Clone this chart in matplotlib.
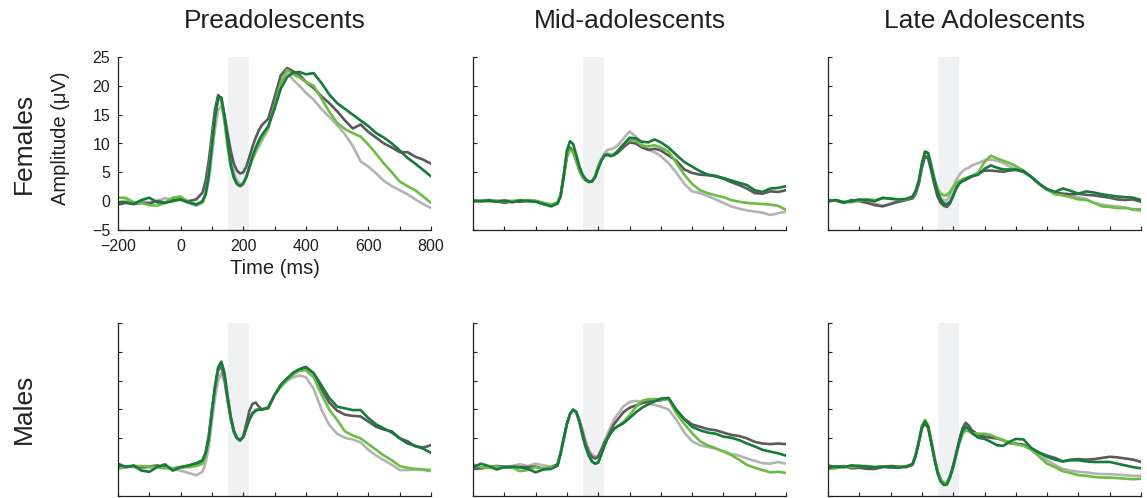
import matplotlib
matplotlib.use("Agg")
import matplotlib.pyplot as plt
import numpy as np

plt.rcParams['font.family'] = ['Liberation Sans', 'DejaVu Sans']

# ---------------- data ----------------
times = [-200, -175, -150, -125, -100, -75, -50, -25, 0, 25, 50, 70,
         80, 90, 100, 110, 120, 130, 140, 150, 160, 170, 180, 190, 200,
         210, 220, 230, 240, 250, 260, 280,
         300, 320, 340, 360, 380, 400, 425, 450, 475, 500, 525, 550, 575,
         600, 625, 650, 675, 700, 725, 750, 775, 800]

group_titles = ["Preadolescents", "Mid-adolescents", "Late Adolescents"]
row_labels = ["Females", "Males"]
series_names = ["light gray", "dark gray", "light green", "dark green"]

x_ticks = [-200, -100, 0, 100, 200, 300, 400, 500, 600, 700, 800]
x_ticklabels = ["\u2212200", "", "0", "", "200", "", "400", "", "600", "", "800"]
y_ticks = [-5, 0, 5, 10, 15, 20, 25]
y_ticklabels = ["\u22125", "0", "5", "10", "15", "20", "25"]
shade_window = [150, 220]

# Females, Preadolescents
fem_pre_lgray = [-0.3, 0.2, -0.3, 0.0, -0.2, 0.1, 0.5, 0.3, 0.2, -0.3, -0.8, -0.3,
                 1.0, 3.5, 8.0, 12.5, 15.8, 16.5, 14.0, 10.5, 7.2, 5.0, 3.6, 3.0, 3.2,
                 4.2, 5.8, 7.3, 8.5, 9.5, 10.5, 12.5,
                 16.5, 20.5, 22.3, 21.0, 20.0, 18.8, 17.6, 16.0, 14.6, 13.2, 11.6, 9.6, 6.9,
                 6.0, 4.8, 3.5, 2.6, 1.9, 1.2, 0.3, -0.5, -1.2]
fem_pre_dgray = [-0.6, -0.3, -0.5, -0.3, -0.4, 0.0, -0.2, 0.2, 0.3, 0.0, 0.3, 1.5,
                 3.5, 7.0, 11.5, 16.0, 18.4, 17.8, 15.0, 11.8, 8.8, 6.5, 5.3, 4.8, 5.0,
                 6.0, 7.7, 9.5, 11.0, 12.3, 13.2, 14.3,
                 18.0, 21.8, 23.1, 22.5, 21.9, 20.7, 19.6, 18.2, 17.0, 15.6, 14.0, 12.6, 13.3,
                 12.0, 11.0, 10.0, 9.3, 8.5, 8.5, 7.7, 7.2, 6.5]
fem_pre_lgreen = [0.6, 0.6, -0.2, -0.3, -0.7, -0.8, -0.3, 0.6, 0.8, -0.2, -0.5, -0.2,
                  1.5, 5.0, 10.0, 14.5, 17.8, 17.5, 14.0, 9.5, 6.0, 4.0, 3.0, 2.7, 3.0,
                  4.2, 5.8, 7.4, 8.8, 10.0, 11.0, 12.8,
                  16.5, 20.5, 22.8, 22.0, 21.4, 20.7, 20.0, 17.8, 15.5, 13.6, 12.5, 11.8, 11.2,
                  9.8, 8.2, 6.5, 5.0, 3.4, 2.6, 1.9, 0.8, -0.3]
fem_pre_dgreen = [-0.2, -0.2, -0.5, 0.2, 0.6, -0.2, -0.3, 0.0, 0.3, -0.2, -0.6, 0.0,
                  1.2, 4.5, 9.5, 14.5, 18.0, 18.0, 14.8, 10.5, 6.5, 4.2, 3.0, 2.6, 3.0,
                  4.2, 6.0, 7.8, 9.3, 10.5, 11.5, 13.0,
                  16.0, 19.5, 21.5, 22.3, 22.4, 22.0, 22.2, 20.5, 18.5, 17.0, 16.0, 15.0, 14.0,
                  13.0, 11.8, 11.0, 10.0, 8.8, 7.5, 6.5, 5.4, 4.3]

# Females, Mid-adolescents
fem_mid_lgray = [0.0, 0.1, 0.0, -0.1, 0.2, 0.0, 0.1, 0.2, 0.0, -0.3, -0.6, -0.3,
                 1.0, 4.0, 7.5, 9.0, 8.4, 7.0, 5.5, 4.5, 3.8, 3.4, 3.4, 4.2, 5.8,
                 7.2, 8.3, 8.9, 9.0, 9.2, 9.6, 10.8,
                 12.1, 11.2, 9.8, 8.9, 8.5, 7.8, 6.6, 4.9, 3.0, 1.7, 1.4, 0.9, 0.3,
                 -0.3, -0.9, -1.3, -1.6, -1.8, -2.0, -2.4, -2.1, -1.8]
fem_mid_dgray = [0.0, 0.0, 0.2, 0.0, -0.3, 0.0, -0.1, 0.1, 0.0, -0.5, -0.8, -0.4,
                 1.0, 4.5, 8.0, 9.3, 8.6, 7.0, 5.3, 4.2, 3.6, 3.3, 3.4, 4.3, 6.0,
                 7.2, 8.0, 8.2, 8.0, 8.0, 8.3, 9.3,
                 10.2, 10.0, 9.3, 8.9, 9.1, 8.8, 7.9, 7.0, 5.5, 4.9, 4.6, 4.5, 4.3,
                 3.9, 3.3, 2.8, 2.2, 1.4, 1.3, 1.7, 1.6, 1.9]
fem_mid_lgreen = [0.1, 0.0, 0.0, 0.1, 0.0, 0.0, 0.2, 0.0, 0.1, -0.3, -0.6, -0.2,
                  1.2, 4.5, 7.8, 8.9, 8.5, 7.0, 5.5, 4.3, 3.7, 3.4, 3.4, 4.3, 6.0,
                  7.2, 7.9, 8.1, 7.9, 8.2, 8.6, 9.8,
                  10.7, 10.5, 9.6, 9.5, 9.7, 9.3, 8.6, 6.6, 4.6, 3.0, 1.9, 1.4, 1.0,
                  0.7, 0.2, -0.1, -0.3, -0.4, -0.5, -0.6, -0.8, -1.5]
fem_mid_dgreen = [0.1, 0.0, 0.1, -0.1, 0.1, -0.2, 0.1, 0.0, -0.1, -0.5, -0.9, -0.4,
                  0.8, 4.5, 8.8, 10.4, 9.9, 8.0, 6.0, 4.6, 3.8, 3.4, 3.4, 4.1, 5.6,
                  7.0, 7.9, 8.0, 7.8, 8.0, 8.5, 9.8,
                  11.0, 10.9, 10.3, 10.2, 10.7, 10.2, 9.3, 8.0, 6.8, 6.0, 5.2, 4.6, 4.4,
                  4.0, 3.6, 3.2, 2.8, 1.9, 1.6, 2.2, 2.3, 2.6]

# Females, Late Adolescents
fem_late_lgray = [0.0, 0.1, -0.2, 0.0, 0.1, 0.0, -0.4, -0.8, -0.4, 0.0, 0.3, 0.5,
                  1.2, 3.0, 6.0, 8.0, 7.6, 5.5, 3.2, 1.5, 0.5, 0.1, 0.2, 1.0, 2.4,
                  3.7, 4.6, 5.2, 5.6, 5.8, 6.2, 6.6,
                  7.1, 7.2, 7.0, 6.6, 6.0, 5.6, 5.0, 4.2, 3.0, 2.0, 1.5, 1.2, 1.0,
                  0.7, 0.4, -0.3, -0.6, -0.8, -0.9, -1.1, -1.5, -1.7]
fem_late_dgray = [0.2, 0.1, -0.3, 0.2, 0.0, -0.3, -0.7, -0.9, -0.5, -0.1, 0.2, 0.5,
                  1.3, 3.0, 5.8, 7.8, 7.4, 5.2, 2.8, 0.8, -0.3, -0.8, -1.0, -0.4, 0.9,
                  2.3, 3.1, 3.5, 3.7, 4.0, 4.3, 4.8,
                  5.3, 5.3, 5.2, 5.1, 5.3, 5.4, 5.1, 4.2, 3.0, 2.0, 1.5, 1.3, 1.2,
                  1.3, 1.1, 1.0, 0.8, 0.6, 0.3, 0.2, 0.3, -0.1]
fem_late_lgreen = [0.0, 0.2, -0.1, -0.2, 0.1, 0.3, 0.2, 0.5, 0.5, 0.3, 0.3, 0.8,
                   1.6, 3.5, 6.5, 8.6, 8.4, 6.3, 4.0, 2.2, 1.3, 1.0, 1.1, 1.6, 2.5,
                   3.1, 3.5, 3.8, 4.0, 4.2, 4.4, 5.0,
                   6.8, 7.9, 7.4, 7.0, 6.6, 6.1, 5.3, 4.2, 3.0, 2.0, 1.2, 1.0, 0.7,
                   0.3, 0.2, -0.3, -0.9, -1.0, -1.2, -1.2, -1.4, -1.4]
fem_late_dgreen = [0.0, 0.2, -0.2, 0.0, 0.3, 0.2, 0.0, 0.6, 0.4, 0.3, 0.4, 0.8,
                   1.8, 3.5, 6.5, 8.6, 8.3, 6.0, 3.6, 1.6, 0.3, -0.4, -0.5, -0.1, 1.0,
                   2.3, 3.1, 3.5, 3.8, 4.1, 4.3, 4.6,
                   5.6, 6.2, 5.8, 5.5, 5.5, 5.5, 5.2, 4.2, 3.0, 2.1, 1.6, 2.2, 1.8,
                   1.3, 1.7, 1.5, 1.2, 1.0, 0.8, 0.7, 0.6, 0.2]

# Males, Preadolescents
male_pre_lgray = [0.3, 0.1, 0.0, -0.2, -0.1, 0.2, 0.0, -0.3, -0.6, -1.0, -1.4, -0.8,
                  0.8, 3.5, 8.0, 12.0, 15.0, 16.3, 14.8, 11.5, 8.3, 6.0, 4.9, 4.6, 5.2,
                  7.0, 8.5, 9.5, 10.0, 10.0, 10.0, 10.5,
                  12.5, 14.0, 15.0, 15.6, 15.9, 15.6, 13.6, 10.0, 7.3, 5.8, 5.1, 4.8, 4.3,
                  3.0, 2.0, 1.2, 0.4, -0.5, -0.5, -0.4, -0.5, -0.7]
male_pre_dgray = [0.3, 0.1, 0.2, 0.0, 0.1, 0.3, 0.0, -0.2, 0.0, 0.2, 0.4, 1.0,
                  2.5, 5.5, 10.0, 14.0, 16.8, 17.5, 15.5, 11.8, 8.5, 6.2, 5.0, 4.6, 5.3,
                  7.5, 9.8, 11.0, 11.2, 10.5, 10.0, 10.2,
                  12.5, 14.0, 15.2, 16.2, 16.9, 17.3, 16.3, 13.5, 11.2, 9.8, 9.1, 8.9, 8.8,
                  7.9, 7.0, 6.5, 6.2, 5.0, 4.5, 3.6, 3.4, 3.8]
male_pre_lgreen = [-0.3, 0.0, 0.2, 0.2, 0.1, 0.0, -0.2, -0.2, -0.1, 0.0, 0.2, 0.6,
                   2.0, 5.0, 9.5, 14.0, 17.2, 18.2, 16.3, 12.5, 8.8, 6.3, 5.0, 4.7, 5.2,
                   6.8, 8.2, 9.3, 9.9, 10.1, 10.0, 10.3,
                   12.5, 14.0, 15.2, 16.1, 16.7, 16.8, 15.6, 12.6, 10.0, 8.2, 6.2, 5.5, 5.0,
                   4.0, 3.0, 2.0, 1.2, 0.2, -0.1, -0.3, -0.4, -0.5]
male_pre_dgreen = [0.6, 0.0, 0.3, -0.6, -0.8, 0.0, 0.5, -0.6, 0.0, 0.3, 0.7, 1.2,
                   2.5, 5.0, 9.5, 14.0, 17.3, 18.3, 16.3, 12.3, 8.8, 6.3, 5.1, 4.7, 5.2,
                   6.8, 8.3, 9.3, 9.8, 10.0, 10.0, 10.3,
                   12.5, 14.3, 15.4, 16.4, 17.0, 17.4, 16.3, 14.2, 12.0, 10.5, 10.2, 9.9, 9.9,
                   8.5, 7.4, 6.7, 6.0, 5.0, 4.1, 3.7, 3.2, 2.5]

# Males, Mid-adolescents
male_mid_lgray = [0.0, -0.2, -0.1, 0.0, 0.0, 0.2, 0.5, 0.2, 0.6, 0.3, 0.1, 0.4,
                  2.5, 5.0, 7.5, 9.2, 9.9, 9.6, 8.3, 6.5, 4.5, 3.0, 2.2, 1.8, 2.0,
                  3.0, 4.5, 5.8, 7.0, 8.2, 9.0, 10.5,
                  11.3, 11.5, 11.3, 11.0, 10.8, 10.5, 10.0, 8.2, 6.0, 4.5, 3.8, 3.5, 3.2,
                  2.8, 2.3, 2.0, 1.5, 1.1, 0.7, 0.6, 0.9, 0.6]
male_mid_dgray = [-0.3, -0.2, 0.0, 0.2, 0.1, -0.1, 0.0, 0.0, 0.1, -0.3, 0.0, 0.5,
                  2.5, 5.0, 7.5, 9.2, 9.9, 9.5, 8.0, 6.0, 4.0, 2.6, 1.8, 1.5, 1.8,
                  3.0, 4.3, 5.2, 6.3, 7.4, 8.1, 9.5,
                  10.3, 10.7, 11.1, 11.4, 11.5, 11.6, 11.9, 9.9, 8.4, 7.4, 7.0, 6.6, 6.4,
                  6.0, 5.6, 5.4, 5.0, 4.4, 4.1, 4.0, 4.1, 4.0]
male_mid_lgreen = [0.5, 0.0, -0.1, 0.1, -0.1, 0.0, -0.7, -0.5, 0.0, -0.3, 0.0, 0.2,
                   2.5, 5.0, 7.5, 9.2, 9.9, 9.5, 7.8, 5.5, 3.5, 2.0, 1.0, 0.6, 0.8,
                   2.2, 3.8, 5.0, 5.9, 6.6, 7.0, 7.8,
                   9.0, 10.4, 11.5, 11.8, 11.8, 11.7, 11.8, 9.3, 7.5, 5.9, 4.5, 3.8, 3.3,
                   2.7, 2.1, 1.3, 0.4, -0.1, -0.5, -0.9, -0.8, -1.0]
male_mid_dgreen = [0.0, 0.6, 0.2, -0.4, 0.0, 0.1, 0.0, -0.3, -0.9, -0.4, -0.3, 0.3,
                   2.3, 5.0, 7.5, 9.2, 10.0, 9.6, 7.8, 5.5, 3.5, 2.0, 1.0, 0.6, 0.8,
                   2.2, 3.7, 5.0, 5.9, 6.6, 7.0, 7.6,
                   8.5, 9.5, 10.3, 10.9, 11.4, 11.9, 12.0, 9.9, 8.3, 7.0, 6.4, 6.0, 5.8,
                   5.3, 5.1, 4.7, 4.1, 3.6, 3.0, 2.7, 2.4, 2.0]

# Males, Late Adolescents
male_late_lgray = [0.0, 0.2, 0.0, 0.3, 0.2, 0.0, -0.2, 0.1, 0.0, 0.1, 0.1, 0.6,
                   2.0, 4.3, 6.8, 7.6, 6.8, 4.2, 1.5, -0.8, -2.2, -2.8, -2.7, -1.5, 0.2,
                   2.4, 4.5, 6.3, 7.3, 7.0, 6.3, 5.5,
                   5.4, 5.2, 5.0, 4.6, 4.1, 4.0, 3.8, 3.2, 2.2, 1.2, 0.4, -0.3, -0.6,
                   -0.8, -0.9, -1.1, -1.2, -1.2, -1.3, -1.4, -1.5, -1.5]
male_late_dgray = [0.3, 0.0, 0.2, -0.2, -0.1, -0.3, -0.3, 0.0, 0.2, 0.1, 0.0, 0.4,
                   2.0, 4.3, 6.8, 7.6, 6.8, 4.2, 1.5, -0.8, -2.2, -2.8, -2.7, -1.5, 0.3,
                   2.6, 4.8, 6.8, 7.7, 7.2, 6.4, 5.6,
                   5.3, 5.1, 5.0, 4.7, 4.2, 4.1, 3.9, 3.2, 2.5, 2.0, 1.6, 1.0, 1.3,
                   1.4, 1.3, 1.4, 1.6, 1.8, 1.7, 1.5, 1.3, 0.9]
male_late_lgreen = [-0.3, -0.2, 0.1, 0.0, 0.2, 0.2, 0.0, 0.1, -0.1, 0.0, 0.2, 0.5,
                    2.2, 4.5, 7.2, 8.2, 7.3, 4.6, 1.8, -0.6, -2.1, -2.8, -2.7, -1.6, 0.0,
                    2.2, 4.2, 5.8, 6.4, 6.2, 5.9, 5.8,
                    5.8, 5.6, 5.1, 4.7, 4.3, 4.0, 3.7, 3.0, 1.8, 0.6, 0.0, -0.7, -1.0,
                    -1.4, -1.5, -1.7, -1.8, -1.8, -1.9, -2.0, -2.1, -2.0]
male_late_dgreen = [-0.1, 0.1, 0.0, 0.3, 0.2, 0.1, 0.0, 0.1, 0.0, -0.1, 0.1, 0.5,
                    2.0, 4.3, 6.9, 7.9, 7.0, 4.4, 1.5, -1.0, -2.5, -3.1, -3.0, -1.8, 0.1,
                    2.3, 4.5, 6.3, 7.0, 6.6, 5.9, 5.1,
                    4.9, 4.4, 3.8, 3.7, 4.4, 4.9, 4.8, 3.3, 2.5, 1.8, 1.3, 1.0, 1.2,
                    1.2, 1.0, 0.9, 0.9, 0.9, 0.6, 0.3, 0.0, -0.2]

panels = [
    [[fem_pre_lgray, fem_pre_dgray, fem_pre_lgreen, fem_pre_dgreen],
     [fem_mid_lgray, fem_mid_dgray, fem_mid_lgreen, fem_mid_dgreen],
     [fem_late_lgray, fem_late_dgray, fem_late_lgreen, fem_late_dgreen]],
    [[male_pre_lgray, male_pre_dgray, male_pre_lgreen, male_pre_dgreen],
     [male_mid_lgray, male_mid_dgray, male_mid_lgreen, male_mid_dgreen],
     [male_late_lgray, male_late_dgray, male_late_lgreen, male_late_dgreen]],
]

# ---------------- style ----------------
colors = ["#b3b3b3", "#5a5a5a", "#6cbd45", "#177a3b"]
text_color = "#231f20"
shade_color = "#eff1f3"

W, H = 1147, 498
fig = plt.figure(figsize=(W / 100, H / 100), dpi=100)

col_left = [118, 473, 828]
col_width = 313
row_top = [57, 323]
row_height = 173

for r in range(2):
    for c in range(3):
        x0 = col_left[c] / W
        y0 = 1 - (row_top[r] + row_height) / H
        ax = fig.add_axes([x0, y0, col_width / W, row_height / H])
        ax.axvspan(shade_window[0], shade_window[1], color=shade_color, lw=0, zorder=0)
        for s, col in zip(panels[r][c], colors):
            ax.plot(times, s, color=col, lw=1.9, solid_capstyle='round', zorder=2)
        ax.set_xlim(-200, 800)
        ax.set_ylim(-5, 25)
        ax.spines['top'].set_visible(False)
        ax.spines['right'].set_visible(False)
        for sp in ('left', 'bottom'):
            ax.spines[sp].set_linewidth(0.9)
            ax.spines[sp].set_color('#222222')
        ax.set_xticks(x_ticks)
        ax.set_yticks(y_ticks)
        ax.tick_params(direction='in', length=3, width=0.8, color='#222222',
                       labelsize=11.5, labelcolor=text_color)
        ax.tick_params(axis='x', pad=6.5)
        ax.tick_params(axis='y', pad=5.5)
        if r == 0 and c == 0:
            ax.set_xticklabels(x_ticklabels)
            ax.set_yticklabels(y_ticklabels)
            ax.set_xlabel("Time (ms)", fontsize=14.5, color=text_color)
            ax.set_ylabel("Amplitude (\u03bcV)", fontsize=14.5, color=text_color)
            ax.yaxis.set_label_coords((70 - 118) / col_width, (230 - 138) / row_height)
            ax.xaxis.set_label_coords(0.5, (230 - 259) / row_height)
        else:
            ax.set_xticklabels([])
            ax.set_yticklabels([])
        if r == 0:
            fig.text((col_left[c] + col_width / 2) / W, 1 - 21 / H, group_titles[c],
                     fontsize=19, color=text_color, ha='center', va='center')

fig.text(24 / W, 1 - 143 / H, row_labels[0], rotation=90, fontsize=19,
         color=text_color, ha='center', va='center')
fig.text(24 / W, 1 - 409 / H, row_labels[1], rotation=90, fontsize=19,
         color=text_color, ha='center', va='center')

fig.savefig("out.png", dpi=100)
